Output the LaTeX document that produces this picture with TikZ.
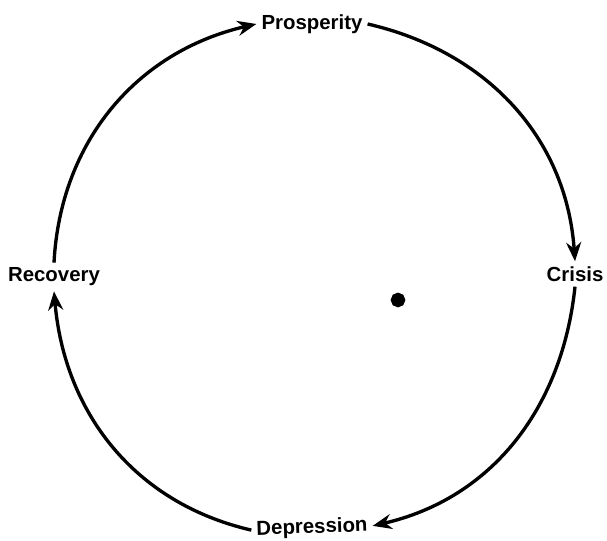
\documentclass[tikz,border=0pt]{standalone}
\usepackage{fontspec}
\setmainfont{Liberation Sans}
\usetikzlibrary{arrows.meta}
\tikzset{phase/.style={font=\fontsize{5.8}{7}\selectfont\bfseries, inner sep=1pt},
	cyclearrow/.style={-{Stealth[length=1.9mm,width=1.5mm]}}
}

\begin{document}
\begin{tikzpicture}[line width=0.95pt]
	\useasboundingbox (0,0) rectangle (6.07,5.41);

	\node[phase] (pro) at (3.12,5.17) {Prosperity};
	\node[phase] (cri) at (5.75,2.67) {Crisis};
	\node[phase,rotate=2] (dep) at (3.12,0.13) {Depression};
	\node[phase] (rec) at (0.54,2.64) {Recovery};

	\draw[cyclearrow] (rec.north) to[out=87,in=193] (pro.west);
	\draw[cyclearrow] (pro.east) to[out=-13,in=94] (cri.north);
	\draw[cyclearrow] (cri.south) to[out=-96,in=13] (dep.east);
	\draw[cyclearrow] (dep.west) to[out=167,in=-85] (rec.south);

	\filldraw (3.98,2.41) circle (1.6pt);
\end{tikzpicture}
\end{document}
